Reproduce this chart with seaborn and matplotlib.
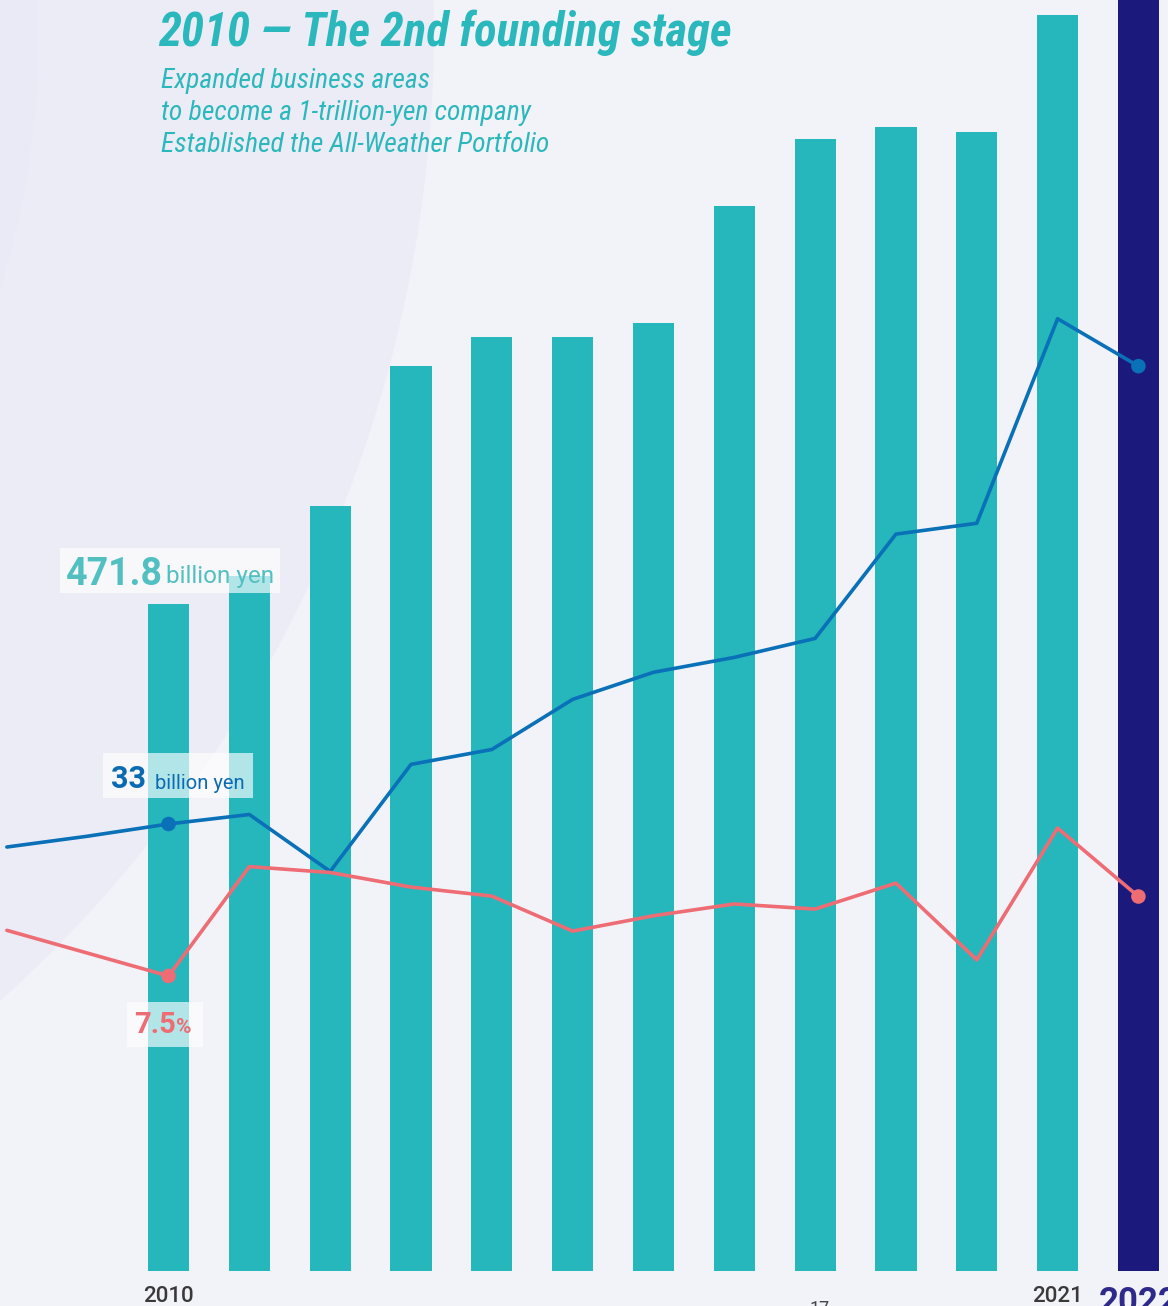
import os
import re
import matplotlib
matplotlib.use("Agg")
import matplotlib.pyplot as plt
from matplotlib import font_manager as fm
from matplotlib.patches import Circle, Rectangle
import numpy as np
import pandas as pd
import seaborn as sns

# ---------------- data ----------------
bar_years = [2010, 2011, 2012, 2013, 2014, 2015, 2016, 2017, 2018, 2019, 2020, 2021, 2022]
sales_bn_yen = [471.8, 491.6, 541.1, 640.2, 660.7, 660.7, 670.6, 753.3, 800.7, 809.2, 805.7, 888.4, 1000.0]
bar_kind = ["past"] * 12 + ["current"]

line_years = [2008, 2009, 2010, 2011, 2012, 2013, 2014, 2015, 2016, 2017, 2018, 2019, 2020, 2021, 2022]
profit_bn_yen = [31.3, 32.1, 33.0, 33.7, 29.5, 37.4, 38.5, 42.2, 44.2, 45.3, 46.7, 54.4, 55.2, 70.3, 66.8]
ratio_pct = [8.66, 8.08, 7.5, 10.28, 10.13, 9.76, 9.53, 8.64, 9.03, 9.33, 9.20, 9.86, 7.91, 11.26, 9.52]

tick_years = [2010, 2021, 2022]
tick_labels = ["2010", "2021", "2022"]

title = "2010 \u2014 The 2nd founding stage"
subtitle_lines = ["Expanded business areas",
                  "to become a 1-trillion-yen company",
                  "Established the All-Weather Portfolio"]

# ---------------- style ----------------
TEAL = "#26b7bc"
NAVY = "#1b1a7c"
BLUE = "#0a70b8"
RED = "#ee6c74"
BG = "#f2f3f8"

sns.set_style("white")
plt.rcParams["font.family"] = ["Roboto", "DejaVu Sans"]


def pick(patterns):
    files = [f.fname for f in fm.fontManager.ttflist]
    for p in patterns:
        for fn in files:
            if re.fullmatch(p, os.path.basename(fn), flags=re.I):
                return fn
    return None


title_file = pick([r"RobotoCondensed-(SemiBold|Medium|Bold)Italic\.ttf",
                   r"NotoSans-Condensed(SemiBold|Medium)Italic\.ttf",
                   r"NotoSans-CondensedBoldItalic\.ttf",
                   r"LiberationSansNarrow-BoldItalic\.ttf",
                   r"DejaVuSansCondensed-BoldOblique\.ttf",
                   r"Roboto-(Medium|SemiBold)Italic\.ttf",
                   r"Roboto-BoldItalic\.ttf"])
sub_file = pick([r"RobotoCondensed-(Light|Regular)?Italic\.ttf",
                 r"NotoSans-Condensed(Light)?Italic\.ttf",
                 r"LiberationSansNarrow-Italic\.ttf",
                 r"DejaVuSansCondensed-Oblique\.ttf",
                 r"Roboto-LightItalic\.ttf",
                 r"Roboto-Italic\.ttf"])
title_fp = fm.FontProperties(fname=title_file) if title_file else fm.FontProperties(
    family="DejaVu Sans", style="italic", weight="bold")
sub_fp = fm.FontProperties(fname=sub_file) if sub_file else fm.FontProperties(
    family="DejaVu Sans", style="italic")

W, H = 1168, 1306
fig = plt.figure(figsize=(W / 100, H / 100), dpi=100)
fig.patch.set_facecolor(BG)


def fx(x):
    return x / W


def fy(y):
    return 1 - y / H


# background arcs (display pixel coords)
fig.add_artist(Circle((-876, H - 27), 1310, transform=None, facecolor="#ececf6",
                      edgecolor="none", zorder=-10))
fig.add_artist(Circle((-876, H - 27), 915, transform=None, facecolor="#e9eaf5",
                      edgecolor="none", zorder=-9))

ax = fig.add_axes([0, fy(1271), 1, 1271 / H])
ax.set_facecolor("none")

df_bar = pd.DataFrame({"year": bar_years, "sales": sales_bn_yen, "kind": bar_kind})
sns.barplot(data=df_bar, x="year", y="sales", hue="kind",
            palette={"past": TEAL, "current": NAVY}, native_scale=True,
            width=0.51, dodge=False, saturation=1, legend=False, linewidth=0, ax=ax)

ax2 = ax.twinx()
ax3 = ax.twinx()
df_line = pd.DataFrame({"year": line_years, "profit": profit_bn_yen, "ratio": ratio_pct})
sns.lineplot(data=df_line, x="year", y="profit", color=BLUE, linewidth=2.6,
             estimator=None, ax=ax2)
sns.lineplot(data=df_line, x="year", y="ratio", color=RED, linewidth=2.6,
             estimator=None, ax=ax3)
ends = df_line[df_line["year"].isin([2010, 2022])]
sns.scatterplot(data=ends, x="year", y="profit", color=BLUE, s=110,
                edgecolor="none", ax=ax2, zorder=5)
sns.scatterplot(data=ends, x="year", y="ratio", color=RED, s=110,
                edgecolor="none", ax=ax3, zorder=5)

ax.set_ylim(0, 899.0)
ax2.set_ylim(0, 93.83)
ax3.set_ylim(0, 32.31)
ax.set_xlim(2007.915, 2022.366)

for a in (ax, ax2, ax3):
    for s in a.spines.values():
        s.set_visible(False)
    a.set_ylabel("")
    a.set_xlabel("")
    a.set_yticks([])
    a.tick_params(length=0)

ax.set_xticks(tick_years)
ax.set_xticklabels(tick_labels)
ax.tick_params(axis="x", pad=11)
for lab in ax.get_xticklabels():
    lab.set_fontsize(16)
    lab.set_fontweight("medium")
    lab.set_color("#3b3839")
last = ax.get_xticklabels()[-1]
last.set_fontsize(25)
last.set_fontweight("bold")
last.set_color("#2e2a8c")

# ---------------- title ----------------
renderer = fig.canvas.get_renderer()


def fitted_text(x, y, s, fp, size, target_w, **kw):
    t = fig.text(fx(x), fy(y), s, fontproperties=fp, ha="left", va="baseline", **kw)
    t.set_fontsize(size)
    w = t.get_window_extent(renderer).width
    if w > 0:
        t.set_fontsize(size * target_w / w)
    return t


fitted_text(158, 46, title, title_fp, 33, 574, color="#2ab8bd")
sub_t = fitted_text(161, 88, subtitle_lines[2], sub_fp, 19, 389, color="#2ab8bd")
sub_size = sub_t.get_fontsize()
sub_t.remove()
for i, line in enumerate(subtitle_lines):
    fig.text(fx(161), fy(88 + 32 * i), line, fontproperties=sub_fp, fontsize=sub_size,
             color="#2ab8bd", ha="left", va="baseline")

# ---------------- annotation boxes ----------------
def box(x0, y0, x1, y1):
    fig.add_artist(Rectangle((fx(x0), fy(y1)), fx(x1 - x0), (y1 - y0) / H,
                             transform=fig.transFigure, facecolor="white",
                             alpha=0.65, edgecolor="none", zorder=5))

box(60, 548, 280, 593)
fig.text(fx(66), fy(585), "471.8", fontsize=27, fontweight="bold", color="#52bfc1",
         ha="left", va="baseline", zorder=6)
fig.text(fx(166), fy(583), "billion yen", fontsize=17.5, color="#52bfc1",
         ha="left", va="baseline", zorder=6)

box(103, 753, 253, 798)
fig.text(fx(111), fy(788), "33", fontsize=22, fontweight="bold", color="#0a6bb3",
         ha="left", va="baseline", zorder=6)
fig.text(fx(155), fy(789), "billion yen", fontsize=14.5, color="#0a6bb3",
         ha="left", va="baseline", zorder=6)

box(127, 1002, 203, 1047)
fig.text(fx(134), fy(1033), "7.5", fontsize=21, fontweight="bold", color=RED,
         ha="left", va="baseline", zorder=6)
fig.text(fx(176), fy(1033), "%", fontsize=15, fontweight="bold", color=RED,
         ha="left", va="baseline", zorder=6)

# page number (cut off at bottom)
fig.text(fx(820), fy(1300), "17", fontsize=13, color="#444444", ha="center",
         va="top")

fig.savefig("out.png", dpi=100, facecolor=BG)
